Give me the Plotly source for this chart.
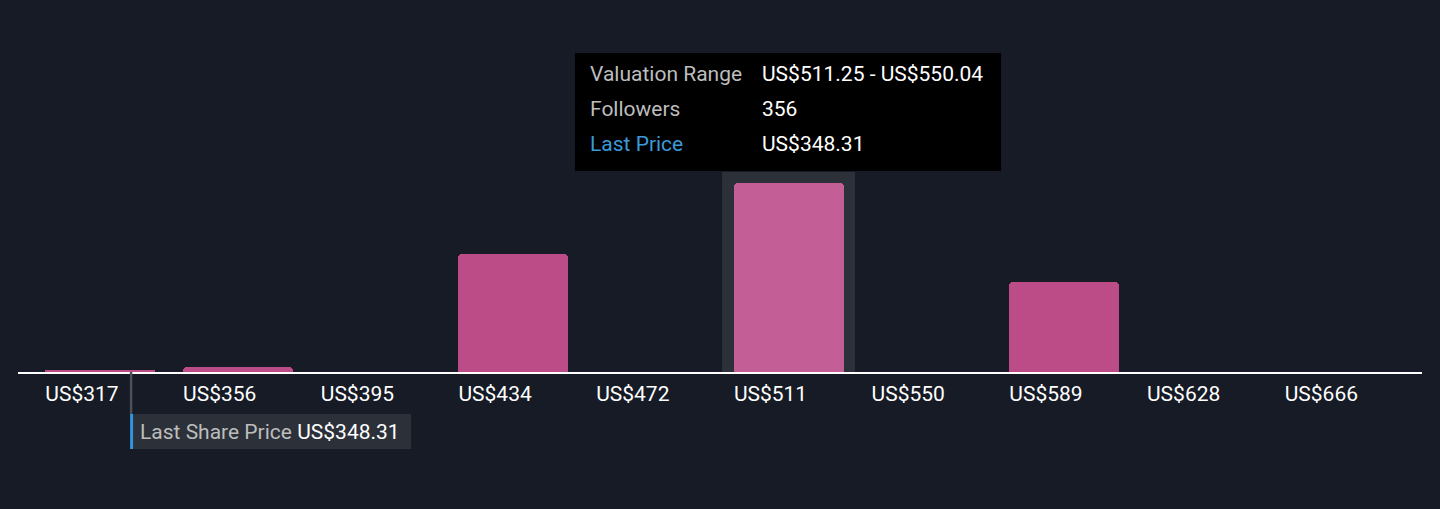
import plotly.graph_objects as go

# ---- data ----
bin_starts = [317.30, 356.09, 394.88, 433.67, 472.46, 511.25, 550.04, 588.83, 627.62, 666.41]
tick_labels = ["US$317", "US$356", "US$395", "US$434", "US$472",
               "US$511", "US$550", "US$589", "US$628", "US$666"]
followers = [3, 9, 0, 222, 0, 356, 0, 169, 0, 0]
bin_width = 38.79
last_price = 348.31
highlight_index = 5

# ---- style ----
BG = "#161b26"
BAR = "#bc4c88"
BAR_HI = "#c45e96"
HILITE = "#2b3039"
FONT = "Roboto"
FS = 21

px_per_unit = 3.55
bar_offset = 24 / px_per_unit
bar_w = 110 / px_per_unit
label_shift = 61 / px_per_unit

x_min = bin_starts[0] - 3 / px_per_unit
x_max = x_min + 1404 / px_per_unit
y_max = 376.7

colors = [BAR_HI if i == highlight_index else BAR for i in range(len(followers))]

fig = go.Figure()
fig.add_trace(go.Bar(
    x=bin_starts, y=followers,
    offset=bar_offset, width=bar_w,
    marker=dict(color=colors, line=dict(width=0), cornerradius=4),
    hoverinfo="skip",
))

shapes = []
# highlight column behind the hovered bar
hc = bin_starts[highlight_index] + bar_offset + bar_w / 2
hw = 66.5 / px_per_unit
shapes.append(dict(type="rect", xref="x", yref="paper", x0=hc - hw, x1=hc + hw,
                   y0=0, y1=1, fillcolor=HILITE, line=dict(width=0), layer="below"))
# tooltip box
shapes.append(dict(type="rect", xref="paper", yref="paper",
                   x0=(575 - 18) / 1404, x1=(1001 - 18) / 1404,
                   y0=(372 - 171) / 200, y1=(372 - 53) / 200,
                   fillcolor="#000000", line=dict(width=0), layer="above"))
# last price marker line
shapes.append(dict(type="line", xref="x", yref="paper", x0=last_price, x1=last_price,
                   y0=0, y1=-0.21, line=dict(color="#4b5059", width=2.5), layer="above"))
# last share price label box
shapes.append(dict(type="rect", xref="x", yref="paper",
                   x0=last_price, x1=last_price + 280 / px_per_unit,
                   y0=-0.385, y1=-0.21, fillcolor="#2c3039", line=dict(width=0), layer="above"))
shapes.append(dict(type="rect", xref="x", yref="paper",
                   x0=last_price - 1 / px_per_unit, x1=last_price + 2 / px_per_unit,
                   y0=-0.385, y1=-0.21, fillcolor="#2f95dc", line=dict(width=0), layer="above"))

annotations = []
rows = [
    ("Valuation Range", "#bdbdbd",
     f"US${bin_starts[highlight_index]:.2f} - US${bin_starts[highlight_index] + bin_width:.2f}", 74),
    ("Followers", "#bdbdbd", f"{followers[highlight_index]}", 109),
    ("Last Price", "#3a9ad9", f"US${last_price:.2f}", 144),
]
for lab, col, val, py in rows:
    yy = (372 - py) / 200
    annotations.append(dict(xref="paper", yref="paper", x=(588 - 18) / 1404, y=yy,
                            text=lab, showarrow=False, xanchor="left", yanchor="middle",
                            font=dict(family=FONT, size=FS, color=col)))
    annotations.append(dict(xref="paper", yref="paper", x=(760 - 18) / 1404, y=yy,
                            text=val, showarrow=False, xanchor="left", yanchor="middle",
                            font=dict(family=FONT, size=FS, color="#ffffff")))

annotations.append(dict(xref="x", yref="paper", x=last_price, xshift=7, y=-0.2975,
                        text=f"<span style='color:#bdbdbd'>Last Share Price</span> US${last_price:.2f}",
                        showarrow=False, xanchor="left", yanchor="middle",
                        font=dict(family=FONT, size=FS, color="#ffffff")))

fig.update_layout(
    width=1440, height=509,
    paper_bgcolor=BG, plot_bgcolor=BG,
    margin=dict(l=18, r=18, t=172, b=137),
    showlegend=False,
    shapes=shapes, annotations=annotations,
    xaxis=dict(range=[x_min, x_max], showgrid=False, zeroline=False,
               showline=True, linecolor="#ffffff", linewidth=2,
               tickmode="array", tickvals=[b + label_shift for b in bin_starts],
               ticktext=tick_labels, ticks="outside", ticklen=2,
               tickcolor="rgba(0,0,0,0)",
               tickfont=dict(family=FONT, size=FS, color="#ffffff"), fixedrange=True),
    yaxis=dict(range=[0, y_max], visible=False, fixedrange=True),
    bargap=0,
)

fig.write_html("out.html", config={"displayModeBar": False},
               post_script="document.body.style.margin='0';document.body.style.background='" + BG + "';")
